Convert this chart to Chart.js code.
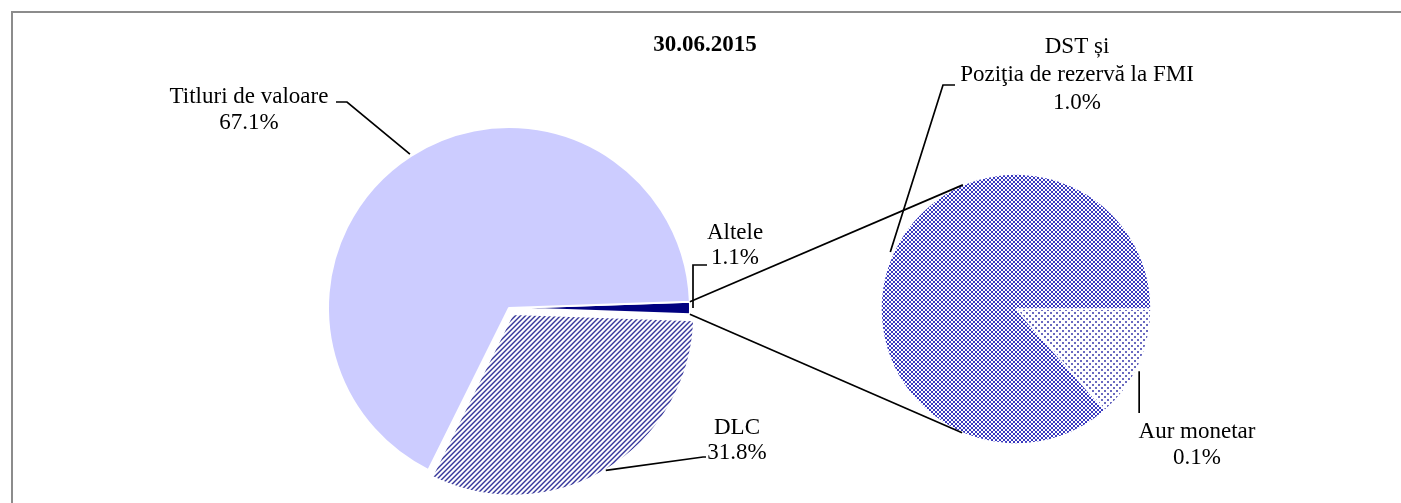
<!DOCTYPE html>
<html><head><meta charset="utf-8">
<script src="https://cdn.jsdelivr.net/npm/chart.js@4.4.1/dist/chart.umd.min.js"></script>
<style>
html,body{margin:0;padding:0;background:#fff;}
#wrap{position:relative;width:1401px;height:503px;overflow:hidden;background:#fff;}
#wrap canvas{position:absolute;left:0;top:0;}
#frame{position:absolute;left:11px;top:11px;width:1400px;height:500px;border-left:2px solid #8c8c8c;border-top:2px solid #8c8c8c;}
</style></head><body>
<div id="wrap"><div id="frame"></div><canvas id="c1" width="1401" height="503"></canvas><canvas id="c2" width="1401" height="503"></canvas></div>
<script>
// ---- data ----
const chartTitle = '30.06.2015';
const mainCategories = ['Altele', 'DLC', 'Titluri de valoare'];
const mainValues = [1.1, 31.8, 67.1];
const mainValueLabels = ['1.1%', '31.8%', '67.1%'];
const subCategories = ['Aur monetar', 'DST și Poziţia de rezervă la FMI'];
const subValues = [0.149, 0.951];
const subValueLabels = ['0.1%', '1.0%'];

// ---- patterns ----
function makePattern(size, painter) {
  const c = document.createElement('canvas');
  c.width = size; c.height = size;
  const g = c.getContext('2d');
  g.fillStyle = '#ffffff'; g.fillRect(0, 0, size, size);
  painter(g, size);
  return g.createPattern(c, 'repeat');
}
const stripePattern = makePattern(5, (g, n) => {
  g.fillStyle = '#34349a';
  for (let y = 0; y < n; y++) for (let x = 0; x < n; x++) {
    if ((x + y) % n < 2) g.fillRect(x, y, 1, 1);
  }
});
const crossPattern = makePattern(4, (g, n) => {
  g.fillStyle = '#3a3ac0';
  for (let y = 0; y < n; y++) for (let x = 0; x < n; x++) {
    if (x === y || x + y === n - 1) g.fillRect(x, y, 1, 1);
  }
});
const dotPattern = makePattern(6, (g, n) => {
  g.fillStyle = '#6a6ac0';
  g.fillRect(0, 0, 2, 2);
  g.fillRect(3, 3, 2, 2);
});

const FONT = '"Liberation Serif", "Times New Roman", serif';
const FS = 23;

function drawLines(ctx, lines, cx, y0, lh, align) {
  ctx.save();
  ctx.fillStyle = '#000';
  ctx.font = FS + 'px ' + FONT;
  ctx.textAlign = align || 'center';
  ctx.textBaseline = 'middle';
  lines.forEach((t, i) => ctx.fillText(t, cx, y0 + i * lh));
  ctx.restore();
}
function arcPoint(el, frac, extra) {
  const a = el.startAngle + (el.endAngle - el.startAngle) * frac;
  const r = el.outerRadius + extra;
  const off = (el.options.offset || 0) / 4;
  const h = (el.startAngle + el.endAngle) / 2;
  return [el.x + Math.cos(h) * off + r * Math.cos(a), el.y + Math.sin(h) * off + r * Math.sin(a)];
}
function polyline(ctx, pts) {
  ctx.save();
  ctx.strokeStyle = '#000';
  ctx.lineWidth = 1.7;
  ctx.beginPath();
  pts.forEach((p, i) => i ? ctx.lineTo(p[0], p[1]) : ctx.moveTo(p[0], p[1]));
  ctx.stroke();
  ctx.restore();
}

const mainLabelPlugin = {
  id: 'mainLabels',
  afterDraw(chart) {
    const ctx = chart.ctx;
    const els = chart.getDatasetMeta(0).data;
    ctx.save();
    ctx.fillStyle = '#000';
    ctx.font = 'bold ' + FS + 'px ' + FONT;
    ctx.textAlign = 'center'; ctx.textBaseline = 'middle';
    ctx.fillText(chartTitle, 705, 45);
    ctx.restore();
    // Titluri de valoare
    polyline(ctx, [arcPoint(els[2], 0.5, 2), [347, 102], [336, 102]]);
    drawLines(ctx, [mainCategories[2], mainValueLabels[2]], 249, 97, 26);
    // DLC
    polyline(ctx, [arcPoint(els[1], 0.5, 1), [703, 457], [706, 457]]);
    drawLines(ctx, [mainCategories[1], mainValueLabels[1]], 737, 428, 25);
    // Altele
    const pA = arcPoint(els[0], 0.5, 3);
    polyline(ctx, [pA, [pA[0], 265], [707, 265]]);
    drawLines(ctx, [mainCategories[0], mainValueLabels[0]], 735, 233, 25);
  }
};

const chart1 = new Chart(document.getElementById('c1'), {
  type: 'pie',
  data: {
    labels: mainCategories,
    datasets: [{
      data: mainValues,
      backgroundColor: ['#000080', stripePattern, '#ccccff'],
      borderColor: '#ffffff',
      borderWidth: 2,
      offset: [0, 28, 0]
    }]
  },
  options: {
    responsive: false,
    animation: false,
    events: [],
    rotation: 88,
    radius: 181,
    layout: { padding: { left: 328, right: 711, top: 127, bottom: 14 } },
    plugins: { legend: { display: false }, tooltip: { enabled: false } }
  },
  plugins: [mainLabelPlugin]
});

const subLabelPlugin = {
  id: 'subLabels',
  afterDraw(chart) {
    const ctx = chart.ctx;
    const els = chart.getDatasetMeta(0).data;
    const m = chart1.getDatasetMeta(0).data[0];
    const c = els[0];
    const R = c.outerRadius;
    [m.startAngle, m.endAngle].forEach((ang, k) => {
      const P = [m.x + m.outerRadius * Math.cos(ang), m.y + m.outerRadius * Math.sin(ang)];
      const dx = P[0] - c.x, dy = P[1] - c.y;
      const d = Math.hypot(dx, dy);
      const th = Math.atan2(dy, dx);
      const al = Math.acos(R / d);
      const t1 = th + al, t2 = th - al;
      const q1 = [c.x + R * Math.cos(t1), c.y + R * Math.sin(t1)];
      const q2 = [c.x + R * Math.cos(t2), c.y + R * Math.sin(t2)];
      const q = k === 0 ? (q1[1] < q2[1] ? q1 : q2) : (q1[1] > q2[1] ? q1 : q2);
      polyline(ctx, [P, q]);
    });
    polyline(ctx, [arcPoint(els[1], 0.5, 3), [943, 85], [955, 85]]);
    drawLines(ctx, ['DST și', 'Poziţia de rezervă la FMI', subValueLabels[1]], 1077, 47, 28);
    const pAu = arcPoint(els[0], 0.55, 3);
    polyline(ctx, [pAu, [pAu[0], 413]]);
    drawLines(ctx, [subCategories[0], subValueLabels[0]], 1197, 432, 26);
  }
};

const chart2 = new Chart(document.getElementById('c2'), {
  type: 'pie',
  data: {
    labels: subCategories,
    datasets: [{
      data: subValues,
      backgroundColor: [dotPattern, crossPattern],
      borderColor: '#ffffff',
      borderWidth: 1.5
    }]
  },
  options: {
    responsive: false,
    animation: false,
    events: [],
    rotation: 90,
    radius: 135,
    layout: { padding: { left: 881, right: 250, top: 174, bottom: 59 } },
    plugins: { legend: { display: false }, tooltip: { enabled: false } }
  },
  plugins: [subLabelPlugin]
});
</script>
</body></html>
